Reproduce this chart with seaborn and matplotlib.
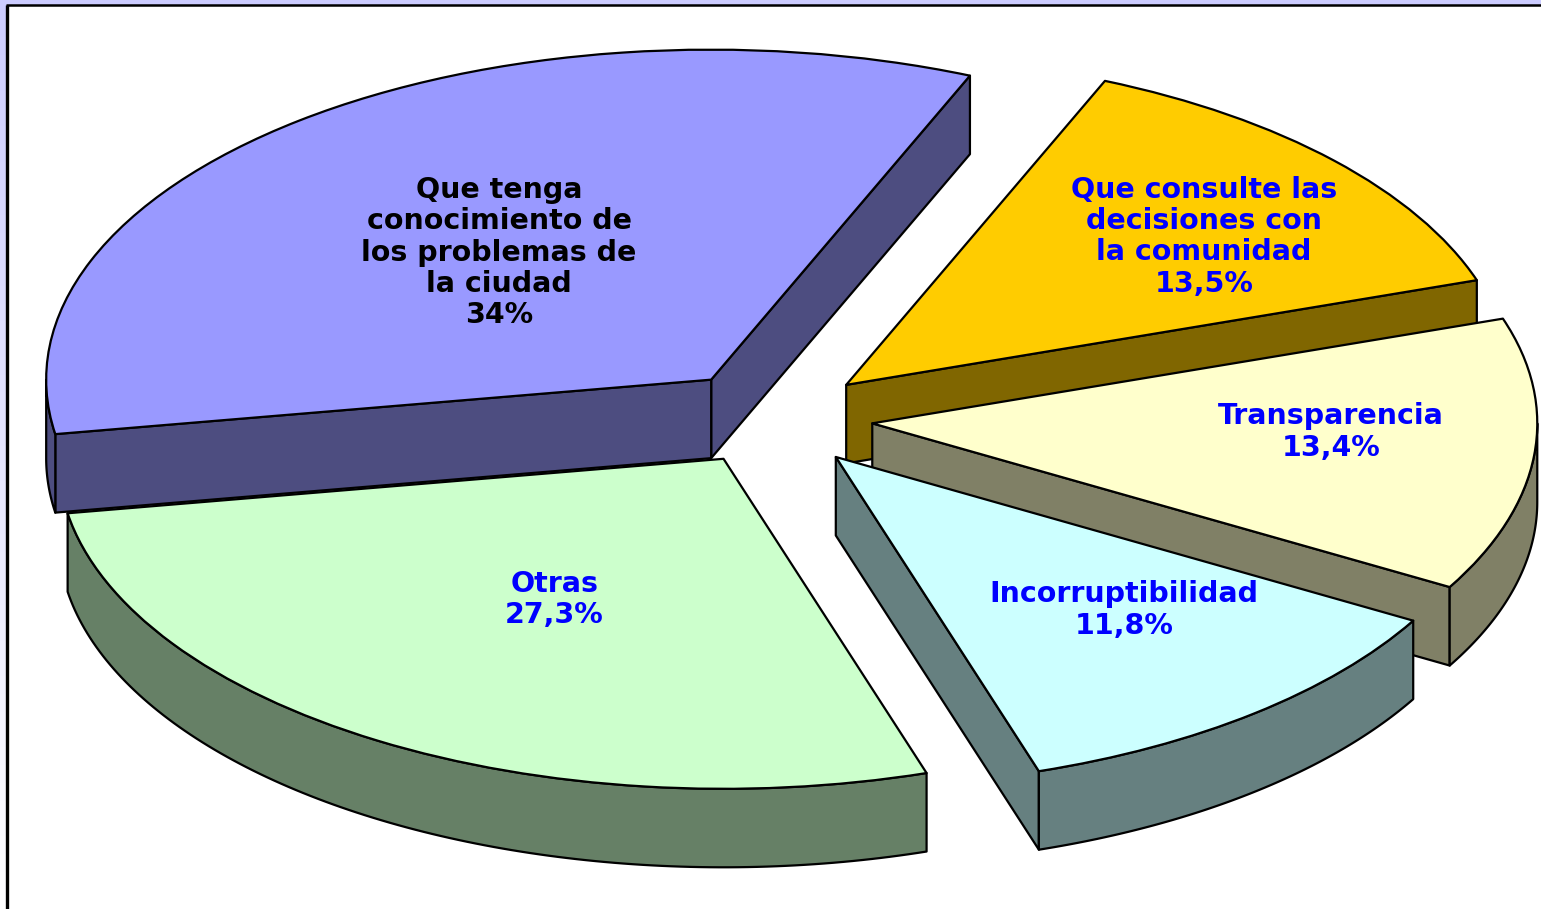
import numpy as np
import matplotlib
matplotlib.use("Agg")
import matplotlib.pyplot as plt
from matplotlib.patches import Rectangle
import seaborn as sns

categories = ["Que tenga\nconocimiento de\nlos problemas de\nla ciudad",
              "Otras", "Incorruptibilidad", "Transparencia",
              "Que consulte las\ndecisiones con\nla comunidad"]
values = [34.0, 27.3, 11.8, 13.4, 13.5]
value_labels = ["34%", "27,3%", "11,8%", "13,4%", "13,5%"]

top_hex = ["#9999FF", "#CCFFCC", "#CCFFFF", "#FFFFCC", "#FFCC00"]
text_hex = ["#000000", "#0000FF", "#0000FF", "#0000FF", "#0000FF"]
draw_order = [0, 1, 4, 3, 2]
explode = [0.15, 0.143, 0.15, 0.15, 0.15]
# label centre relative to each slice's apex, in pie radii
label_dx = [-0.319, -0.254, 0.433, 0.690, 0.538]
label_dy = [0.385, -0.427, -0.464, -0.026, 0.449]

W, H = 1541, 909
CX, CY, RX, RY = 773.0, 418.5, 665.0, 330.0
DEPTH = 78.5 / RY
START = 67.1

sns.set_theme(style="white")
plt.rcParams["font.family"] = ["DejaVu Sans"]
palette = sns.color_palette(top_hex)
sides = [tuple(0.5 * c for c in rgb) for rgb in palette]

fig = plt.figure(figsize=(W / 100, H / 100), dpi=100)

# page background: lavender fading downward, white plot panel with dark frame
bg = fig.add_axes([0, 0, 1, 1], zorder=0)
grad = np.linspace(0, 1, 256)[:, None, None] * np.array([[[1.0, 1.0, 1.0]]]) + \
       (1 - np.linspace(0, 1, 256))[:, None, None] * np.array([[[0.80, 0.80, 1.0]]])
bg.imshow(grad, aspect="auto", extent=(0, W, H, 0), interpolation="bilinear")
bg.set_xlim(0, W)
bg.set_ylim(H, 0)
bg.axis("off")
bg.add_patch(Rectangle((7, 5), W, H, facecolor="white", edgecolor="none"))
bg.plot([7.5, 7.5], [H, 5], color="black", lw=2.4, solid_capstyle="butt")
bg.plot([6, W], [5.2, 5.2], color="black", lw=1.8, solid_capstyle="butt")

ax = fig.add_axes([0, 0, 1, 1], zorder=1)
ax.patch.set_alpha(0)
wedges, _ = ax.pie(values, explode=explode, startangle=START,
                   colors=palette, radius=1, frame=False,
                   wedgeprops=dict(edgecolor="black", linewidth=1.6, joinstyle="round"))
ax.set_aspect("auto")
ax.set_xlim(-CX / RX, (W - CX) / RX)
ax.set_ylim((CY - H) / RY, CY / RY)
ax.axis("off")

edges = START + np.cumsum([0] + values) * 3.6
for rank, i in enumerate(draw_order):
    t0, t1 = edges[i], edges[i + 1]
    mid = np.radians((t0 + t1) / 2)
    ox, oy = explode[i] * np.cos(mid), explode[i] * np.sin(mid)
    z = 2 + rank
    wedges[i].set_zorder(z + 0.5)
    style = dict(facecolor=sides[i], edgecolor="black", linewidth=1.6, zorder=z, joinstyle="round")
    # flat cut faces: only those turned towards the viewer
    for t, seen in ((t0, np.cos(np.radians(t0)) > 0), (t1, np.cos(np.radians(t1)) < 0)):
        if seen:
            ex, ey = ox + np.cos(np.radians(t)), oy + np.sin(np.radians(t))
            ax.fill([ox, ex, ex, ox], [oy, ey, ey - DEPTH, oy - DEPTH], **style)
    # curved outer face: only the part of the rim that faces the viewer
    for lo, hi in ((180, 360), (540, 720)):
        a, b = max(t0, lo), min(t1, hi)
        if a < b:
            th = np.radians(np.linspace(a, b, 120))
            xs, ys = ox + np.cos(th), oy + np.sin(th)
            ax.fill(np.r_[xs, xs[::-1]], np.r_[ys, ys[::-1] - DEPTH], **style)
    ax.text(ox + label_dx[i], oy + label_dy[i],
            categories[i] + "\n" + value_labels[i], color=text_hex[i], ha="center", va="center",
            multialignment="center", fontsize=20.5, fontweight="bold", linespacing=1.155, zorder=50)

fig.savefig("out.png", dpi=100)
